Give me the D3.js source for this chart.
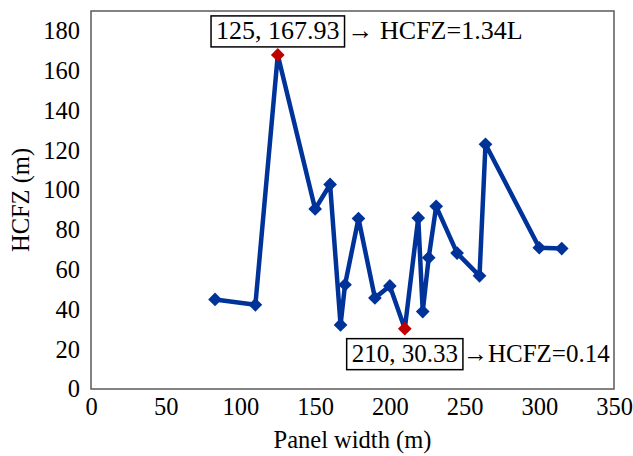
<!DOCTYPE html>
<html>
<head>
<meta charset="utf-8">
<script src="https://cdn.jsdelivr.net/npm/d3@7/dist/d3.min.js"></script>
<style>
  html, body { margin: 0; padding: 0; background: #fff; }
  svg text { font-family: "Liberation Serif", "Times New Roman", serif !important; fill: #000; }
</style>
</head>
<body>
<svg id="chart" width="633" height="456"></svg>
<script>
// Panel width (m) and height of the caved fracture zone, HCFZ (m)
const panelWidth = [83, 110, 125, 150, 160, 167, 170, 179, 190, 200, 210, 219, 222, 226, 231, 245, 260, 264, 300, 315];
const hcfz       = [45, 42.3, 167.93, 90.5, 102.8, 32.2, 52.4, 85.7, 45.8, 51.8, 30.33, 86, 38.9, 66, 91.8, 68.3, 56.9, 123, 71, 70.6];

const xTicks = [0, 50, 100, 150, 200, 250, 300, 350];
const yTicks = [0, 20, 40, 60, 80, 100, 120, 140, 160, 180];

// Highlighted extremes with their labels
const maxPoint = { x: 125, y: 167.93, label: "125, 167.93", note: "\u2192 HCFZ=1.34L" };
const minPoint = { x: 210, y: 30.33, label: "210, 30.33", note: "\u2192HCFZ=0.14" };

const svg = d3.select("#chart");
const plot = { left: 91, right: 614, top: 11, bottom: 389 };

const x = d3.scaleLinear().domain([0, 350]).range([plot.left, plot.right]);
const y = d3.scaleLinear().domain([0, 190]).range([plot.bottom, plot.top]);

const fontSize = 24.5;

// Plot frame
svg.append("rect")
  .attr("x", plot.left).attr("y", plot.top)
  .attr("width", plot.right - plot.left).attr("height", plot.bottom - plot.top)
  .attr("fill", "none").attr("stroke", "#595959").attr("stroke-width", 1.5);

// Axes (labels only, frame acts as axis lines)
const xAxis = svg.append("g")
  .attr("transform", `translate(0,${plot.bottom})`)
  .call(d3.axisBottom(x).tickValues(xTicks).tickSize(0).tickPadding(9).tickFormat(d3.format("d")));
const yAxis = svg.append("g")
  .attr("transform", `translate(${plot.left},0)`)
  .call(d3.axisLeft(y).tickValues(yTicks).tickSize(0).tickPadding(11).tickFormat(d3.format("d")));
[xAxis, yAxis].forEach(g => {
  g.select(".domain").remove();
  g.selectAll("text").attr("font-size", fontSize);
});

// Axis titles
svg.append("text")
  .attr("x", (plot.left + plot.right) / 2).attr("y", 448)
  .attr("text-anchor", "middle").attr("font-size", fontSize)
  .text("Panel width (m)");
svg.append("text")
  .attr("transform", `translate(29,${(plot.top + plot.bottom) / 2}) rotate(-90)`)
  .attr("text-anchor", "middle").attr("font-size", fontSize)
  .text("HCFZ (m)");

// Data line
const data = panelWidth.map((d, i) => ({ x: d, y: hcfz[i] }));
svg.append("path")
  .datum(data)
  .attr("fill", "none")
  .attr("stroke", "#003399")
  .attr("stroke-width", 4.5)
  .attr("stroke-linejoin", "round")
  .attr("d", d3.line().x(d => x(d.x)).y(d => y(d.y)));

// Diamond markers
const diamond = d3.symbol().type(d3.symbolDiamond2).size(120);
const isHighlight = d => (d.x === maxPoint.x && d.y === maxPoint.y) || (d.x === minPoint.x && d.y === minPoint.y);
svg.append("g").selectAll("path")
  .data(data)
  .join("path")
  .attr("transform", d => `translate(${x(d.x)},${y(d.y)})`)
  .attr("d", diamond)
  .attr("fill", d => isHighlight(d) ? "#C00000" : "#003399");

// Annotation: labelled box plus note text
function annotate(p, above, gap, size) {
  const g = svg.append("g");
  const t = g.append("text")
    .attr("font-size", size)
    .attr("text-anchor", "middle")
    .text(p.label);
  const bb = t.node().getBBox();
  const padX = 5, boxH = 31;
  const w = bb.width + padX * 2;
  const cx = x(p.x);
  const top = above ? y(p.y) - 8 - boxH : y(p.y) + 10;
  g.insert("rect", "text")
    .attr("x", cx - w / 2).attr("y", top)
    .attr("width", w).attr("height", boxH)
    .attr("fill", "#fff").attr("stroke", "#000").attr("stroke-width", 1.5);
  t.attr("x", cx).attr("y", top + boxH / 2 + 8);
  g.append("text")
    .attr("x", cx + w / 2 + gap).attr("y", top + boxH / 2 + 8)
    .attr("font-size", size)
    .text(p.note);
}
annotate(maxPoint, true, 3, 26);
annotate(minPoint, false, 0, 25);
</script>
</body>
</html>
